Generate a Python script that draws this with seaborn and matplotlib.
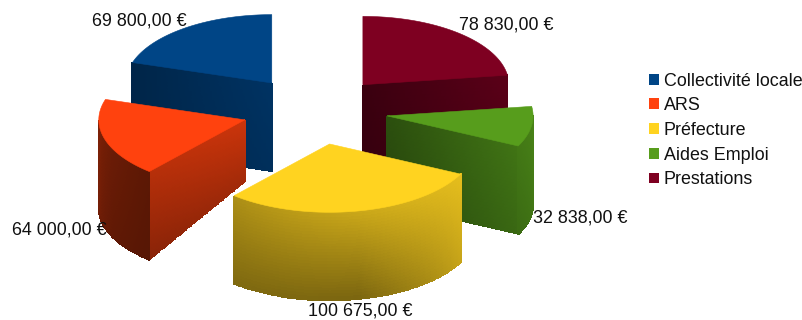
import numpy as np
import seaborn as sns
import matplotlib
matplotlib.use("Agg")
import matplotlib.pyplot as plt
from matplotlib.patches import Patch, Polygon

categories = ["Collectivité locale", "ARS", "Préfecture", "Aides Emploi", "Prestations"]
amounts = [69800.00, 64000.00, 100675.00, 32838.00, 78830.00]
amount_labels = ["69 800,00 €", "64 000,00 €", "100 675,00 €", "32 838,00 €", "78 830,00 €"]
slice_hex = ["#004586", "#ff420e", "#ffd320", "#579d1c", "#7e0021"]

sns.set_theme(style="white")
plt.rcParams["font.family"] = ["Liberation Sans", "DejaVu Sans"]

# Pie geometry in figure pixels
CX, CY = 315.0, 110.5
RADIUS, EXPLODE, SQUASH, DEPTH = 146.0, 73.0, 0.468, 88.0

# Shading of the cut faces: (apex top, rim top, apex bottom, rim bottom)
cut_shade = {
    0: (0.74, 0.54, 0.68, 0.54),
    1: (0.80, 0.72, 0.64, 0.54),
    3: (0.50, 0.74, 0.44, 0.66),
    4: (0.46, 0.72, 0.42, 0.62),
}
# Shading of the outer wall, sampled along its visible arc: top row, bottom row
wall_shade = {
    1: ([0.50, 0.42, 0.36], [0.46, 0.38, 0.34]),
    2: ([0.68, 0.80, 0.90], [0.50, 0.48, 0.78]),
    3: ([0.76, 0.80, 0.84], [0.68, 0.72, 0.76]),
}
# The ARS wedge thins towards its apex
apex_depth = {1: 0.70}
draw_order = [0, 4, 1, 3, 2]
label_xy = [(92, 21), (12, 230), (308, 311), (533, 218), (459, 25)]

palette = sns.color_palette(slice_hex)
spans = 360.0 * np.array(amounts) / np.sum(amounts)
starts = 90.0 + np.concatenate([[0.0], np.cumsum(spans)[:-1]])
ends = starts + spans


def project(theta_deg, rho, offset, z):
    """Map cylinder coordinates of a slice to figure pixels."""
    t = np.radians(theta_deg)
    return (offset[0] + rho * np.cos(t),
            offset[1] - SQUASH * rho * np.sin(t) + z)


fig = plt.figure(figsize=(8.03, 3.2), dpi=100, facecolor="white")
ax = fig.add_axes([0, 0, 1, 1])
ax.set_xlim(0, 803)
ax.set_ylim(320, 0)
ax.axis("off")


def mesh(xs, ys, shade, base):
    rgb = np.clip(shade[..., None] * np.array(base), 0, 1)
    ax.pcolormesh(xs, ys, rgb, shading="flat", edgecolors="face",
                  linewidth=0.3, antialiased=False)


for i in draw_order:
    base = palette[i]
    a0, a1 = starts[i], ends[i]
    mid = np.radians((a0 + a1) / 2)
    offset = (CX + EXPLODE * np.cos(mid), CY - SQUASH * EXPLODE * np.sin(mid))

    # Flat cut face that looks towards the viewer
    for angle, visible in ((a1, np.cos(np.radians(a1)) < -1e-6),
                           (a0, np.cos(np.radians(a0)) > 1e-6)):
        if not visible:
            continue
        u = np.linspace(0, 1, 61)
        v = np.linspace(0, 1, 31)
        U, V = np.meshgrid(u, v)
        depth_at = DEPTH * (apex_depth.get(i, 1.0) + (1 - apex_depth.get(i, 1.0)) * U)
        xs, ys = project(angle, RADIUS * U, offset, depth_at * V)
        at, rt, ab, rb = cut_shade[i]
        Uc = (U[:-1, :-1] + U[1:, 1:]) / 2
        Vc = (V[:-1, :-1] + V[1:, 1:]) / 2
        shade = (at * (1 - Uc) + rt * Uc) * (1 - Vc) + (ab * (1 - Uc) + rb * Uc) * Vc
        mesh(xs, ys, shade, base)

    # Curved outer wall, front half only
    lo = max(a0, 180.0) if a0 < 360 else a0
    hi = min(a1, 360.0)
    if i in wall_shade and hi > lo:
        th = np.linspace(lo, hi, 121)
        v = np.linspace(0, 1, 31)
        T, V = np.meshgrid(th, v)
        xs, ys = project(T, RADIUS, offset, DEPTH * V)
        top, bottom = wall_shade[i]
        stops = np.linspace(0, 1, len(top))
        Tc = ((T[:-1, :-1] + T[1:, 1:]) / 2 - lo) / (hi - lo)
        Vc = (V[:-1, :-1] + V[1:, 1:]) / 2
        shade = np.interp(Tc, stops, top) * (1 - Vc) + np.interp(Tc, stops, bottom) * Vc
        mesh(xs, ys, shade, base)

    # Top face
    th = np.linspace(a0, a1, 120)
    ex, ey = project(th, RADIUS, offset, 0.0)
    outline = np.column_stack([np.r_[offset[0], ex], np.r_[offset[1], ey]])
    ax.add_patch(Polygon(outline, closed=True, facecolor=base, edgecolor=base, linewidth=0.4))

for text, (x, y) in zip(amount_labels, label_xy):
    ax.text(x, y, text, fontsize=12.9, color="#111111", ha="left", va="center")

handles = [Patch(facecolor=c, edgecolor="none") for c in palette]
ax.legend(handles, categories, loc="upper left", bbox_to_anchor=(649, 72.5),
          bbox_transform=ax.transData, frameon=False, fontsize=12.85,
          borderpad=0, borderaxespad=0, handlelength=0.58, handleheight=0.55,
          handletextpad=0.25, labelspacing=0.43, labelcolor="#111111")

fig.savefig("out.png", dpi=100, facecolor="white")
